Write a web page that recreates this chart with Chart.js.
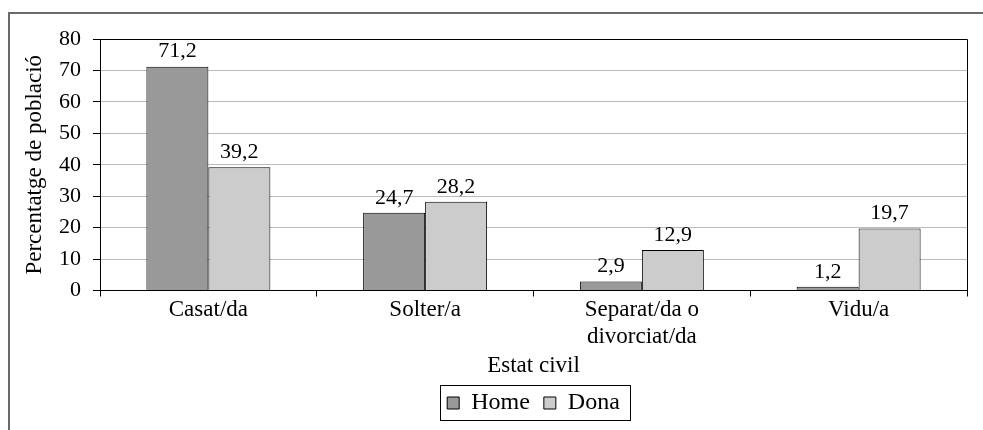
<!DOCTYPE html>
<html>
<head>
<meta charset="utf-8">
<script src="https://cdn.jsdelivr.net/npm/chart.js@4/dist/chart.umd.min.js"></script>
<style>
  html, body { margin: 0; padding: 0; background: #fff; overflow: hidden; }
  #wrap { position: relative; width: 983px; height: 430px; }
  #frame { position: absolute; left: 8px; top: 12px; width: 1000px; height: 500px; border: 2px solid #6a6a6a; }
  canvas { position: absolute; left: 0; top: 0; }
</style>
</head>
<body>
<div id="wrap">
  <div id="frame"></div>
  <canvas id="c" width="983" height="430"></canvas>
</div>
<script>
const categories = [["Casat/da"], ["Solter/a"], ["Separat/da o", "divorciat/da"], ["Vidu/a"]];
const homeValues = [71.2, 24.7, 2.9, 1.2];
const donaValues = [39.2, 28.2, 12.9, 19.7];
const seriesNames = ["Home", "Dona"];
const yTitle = "Percentatge de població";
const xTitle = "Estat civil";

const FONT = "'Liberation Serif', 'Times New Roman', serif";
const FS = 22;      // y ticks, value labels
const FX = 23;      // x ticks, titles
const FL = 24;      // legend
Chart.defaults.font.family = FONT;
Chart.defaults.font.size = FS;
Chart.defaults.color = '#000';

const fmt = v => v.toFixed(1).replace('.', ',');

const valueLabels = {
  id: 'valueLabels',
  afterDatasetsDraw(chart) {
    const ctx = chart.ctx;
    ctx.save();
    ctx.font = FS + 'px ' + FONT;
    ctx.fillStyle = '#000';
    ctx.textAlign = 'center';
    ctx.textBaseline = 'middle';
    chart.data.datasets.forEach((ds, i) => {
      const meta = chart.getDatasetMeta(i);
      meta.data.forEach((el, j) => {
        ctx.fillText(fmt(ds.data[j]), el.x, el.y - 15);
      });
    });
    ctx.restore();
  }
};

const legendCenter = {
  id: 'legendCenter',
  afterLayout(chart) {
    const l = chart.legend, a = chart.chartArea;
    if (!l) return;
    const d = (a.left + a.right) / 2 - (l.left + l.right) / 2;
    l.left += d; l.right += d;
  }
};

const plotFrame = {
  id: 'plotFrame',
  afterDraw(chart) {
    const {ctx, chartArea: a} = chart;
    ctx.save();
    ctx.strokeStyle = '#000';
    ctx.lineWidth = 1;
    ctx.beginPath();
    ctx.moveTo(Math.round(a.left) + 0.5, Math.round(a.top) + 0.5);
    ctx.lineTo(Math.round(a.right) + 0.5, Math.round(a.top) + 0.5);
    ctx.lineTo(Math.round(a.right) + 0.5, Math.round(a.bottom) + 0.5);
    ctx.stroke();
    const hb = chart.legend.legendHitBoxes;
    if (hb && hb.length) {
      const first = hb[0], last = hb[hb.length - 1];
      const cy = first.top + first.height / 2;
      const l = Math.round(first.left - 7) + 0.5;
      const r = Math.round(last.left + last.width + 10) + 0.5;
      const t = Math.round(cy - 18) + 0.5;
      const b = Math.round(cy + 17) + 0.5;
      ctx.strokeRect(l, t, r - l, b - t);
    }
    ctx.restore();
  }
};

new Chart(document.getElementById('c'), {
  type: 'bar',
  data: {
    labels: categories,
    datasets: [
      { label: seriesNames[0], data: homeValues, backgroundColor: '#999999', borderColor: '#000', borderWidth: 1 },
      { label: seriesNames[1], data: donaValues, backgroundColor: '#cccccc', borderColor: '#000', borderWidth: 1 }
    ]
  },
  options: {
    responsive: false,
    animation: false,
    events: [],
    layout: { padding: { top: 39, right: 16, left: 0, bottom: 5 } },
    datasets: { bar: { categoryPercentage: 0.572, barPercentage: 1.0 } },
    scales: {
      x: {
        grid: { display: true, drawOnChartArea: false, tickColor: '#000', tickLength: 6, offset: true },
        border: { color: '#000', width: 1 },
        ticks: { padding: 0, font: { size: FX, lineHeight: 1.17 }, color: '#000', maxRotation: 0, autoSkip: false },
        title: { display: true, text: xTitle, font: { size: FX, lineHeight: 1.0 }, color: '#000', padding: { top: 0, bottom: 0 } },
        afterFit(scale) { scale.height = 86.5; }
      },
      y: {
        min: 0, max: 80,
        ticks: { stepSize: 10, padding: 12, color: '#000', font: { size: FS } },
        grid: { color: '#bbbbbb', tickColor: '#000', tickLength: 7 },
        border: { color: '#000', width: 1 },
        title: { display: true, text: yTitle, font: { size: FX }, color: '#000', padding: { top: 21, bottom: 0 } },
        afterFit(scale) { scale.width = 100; }
      }
    },
    plugins: {
      legend: {
        position: 'bottom',
        labels: { boxWidth: 12, boxHeight: 12, padding: 14, color: '#000', font: { size: FL } }
      },
      tooltip: { enabled: false },
      title: { display: false }
    }
  },
  plugins: [legendCenter, valueLabels, plotFrame]
});
</script>
</body>
</html>
